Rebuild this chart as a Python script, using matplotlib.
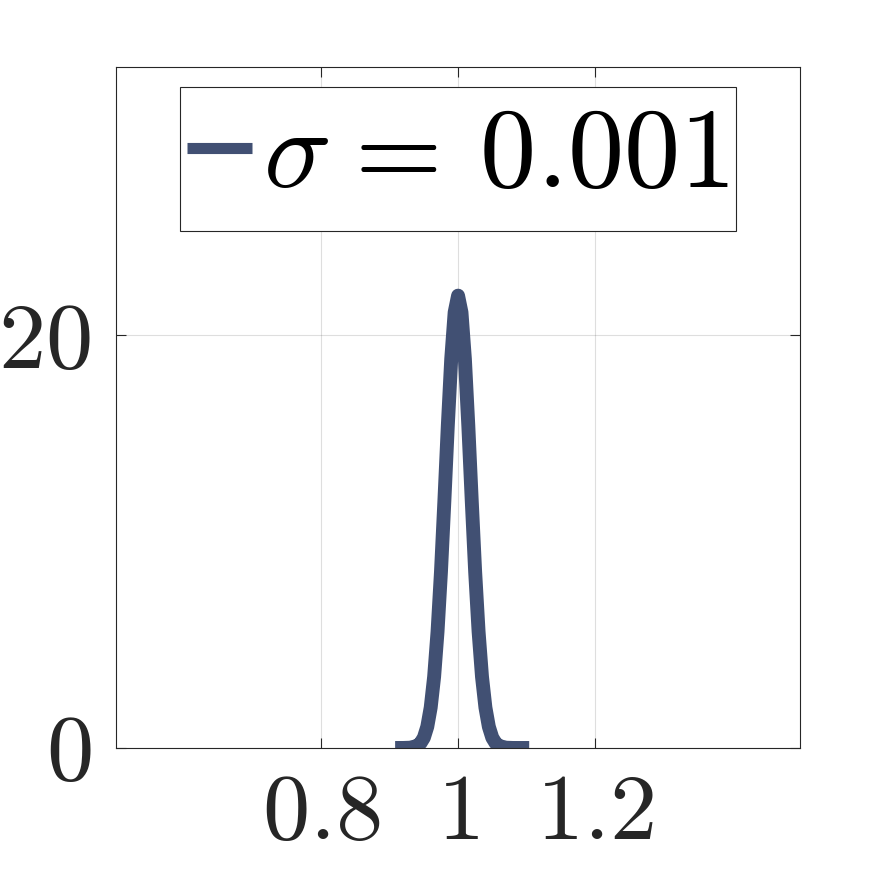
import numpy as np
import matplotlib
matplotlib.use('Agg')
import matplotlib.pyplot as plt
from matplotlib.path import Path

plt.rcParams['mathtext.fontset'] = 'cm'
plt.rcParams['font.family'] = 'serif'
plt.rcParams['font.serif'] = ['cmr10', 'DejaVu Serif']
plt.rcParams['axes.unicode_minus'] = False

# curve
x = [0.908, 0.92, 0.93, 0.94, 0.945, 0.95, 0.955, 0.96, 0.965, 0.97, 0.975, 0.98,
     0.985, 0.99, 0.995, 1.0, 1.005, 1.01, 1.015, 1.02, 1.025, 1.03, 1.035,
     1.04, 1.045, 1.05, 1.055, 1.06, 1.07, 1.08, 1.09, 1.104]
y = [0.0, 0.001, 0.013, 0.096, 0.23, 0.50, 1.03, 1.96, 3.45, 5.64, 8.53, 11.98,
     15.61, 18.85, 21.11, 21.92, 21.11, 18.85, 15.61, 11.98, 8.53, 5.64, 3.45,
     1.96, 1.03, 0.50, 0.23, 0.096, 0.013, 0.001, 0.0, 0.0]
label = r'$\sigma\hspace{0.08}=\hspace{0.18}0.001$'

xticks = [0.8, 1.0, 1.2]
xticklabels = ['$0.8$', '$1$', '$1.2$']
yticks = [0, 20]
yticklabels = ['$0$', '$20$']


def legend_box(x0, y0, width, height, mutation_size):
    # matlab legend: tight on the sides, more room above and below
    dy = 0.135 * mutation_size
    return Path([(x0, y0 - dy), (x0 + width, y0 - dy), (x0 + width, y0 + height + dy),
                 (x0, y0 + height + dy), (x0, y0 - dy)], closed=True)


fig = plt.figure(figsize=(8.86, 8.86), dpi=100)
ax = fig.add_axes([0.131, 0.1558, 0.772, 0.7686])
ax.plot(x, y, color='#415073', lw=10, solid_capstyle='butt', label=label)

ax.set_xlim(0.5, 1.5)
ax.set_ylim(0, 33)
ax.set_xticks(xticks)
ax.set_xticklabels(xticklabels)
ax.set_yticks(yticks)
ax.set_yticklabels(yticklabels)
ax.tick_params(direction='in', length=7, width=0.8, colors='#262626',
               labelsize=68, top=True, right=True)
ax.tick_params(axis='x', pad=19)
ax.tick_params(axis='y', pad=18)
for s in ax.spines.values():
    s.set_color('#262626')
    s.set_linewidth(0.8)
ax.grid(True, color='#262626', alpha=0.15, lw=0.8)

leg = ax.legend(loc='upper center', bbox_to_anchor=(0.5, 0.949), fontsize=81,
                handlelength=0.58, handletextpad=0.1, borderpad=0.06,
                borderaxespad=0, fancybox=False, framealpha=1, edgecolor='#262626')
leg.get_frame().set_linewidth(0.8)
leg.get_frame().set_boxstyle(legend_box)
leg.get_lines()[0].set_linewidth(8)

fig.savefig('out.png', dpi=100)
